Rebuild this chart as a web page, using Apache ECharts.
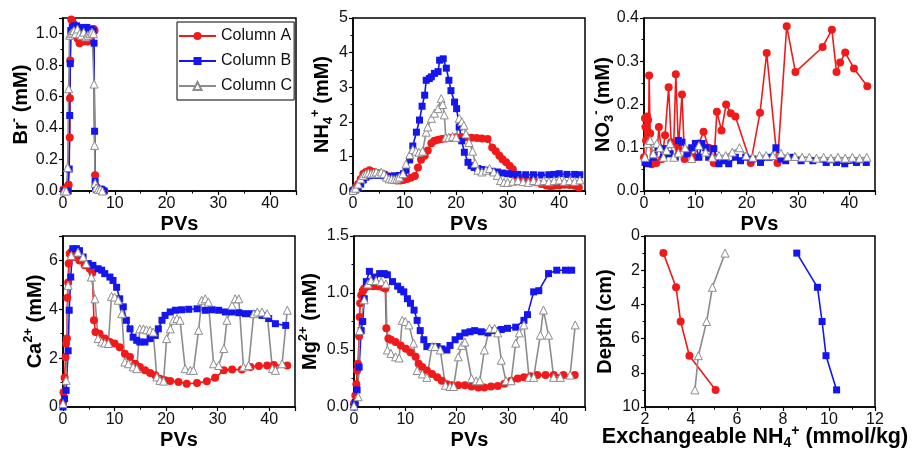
<!DOCTYPE html>
<html><head><meta charset="utf-8">
<script src="https://cdn.jsdelivr.net/npm/echarts@6/dist/echarts.min.js"></script>
<style>html,body{margin:0;padding:0;background:#fff}#c{width:912px;height:456px}</style>
</head><body><div id="c"></div>
<script>
// ---------- Panel 1: Br- (mM) vs PVs ----------
const brA = [[0.1,0.01],[0.5,0.01],[0.9,0.03],[1.1,0.04],[1.3,0.34],[1.35,0.59],[1.4,0.83],[1.6,1.09],[1.8,1.08],[2.1,1.06],[2.4,1.03],[2.8,0.97],[3.2,0.94],[3.6,0.96],[4.0,0.95],[4.4,0.97],[4.8,0.95],[5.2,0.98],[5.6,1.0],[5.9,1.03],[6.1,1.02],[6.2,0.10],[6.3,0.03],[6.6,0.02],[7.0,0.01],[7.6,0.01],[8.0,0.0]];
const brB = [[0.2,0.0],[0.6,0.0],[1.0,0.0],[1.2,0.14],[1.3,0.48],[1.4,0.81],[1.5,1.02],[1.8,1.04],[2.2,1.05],[2.6,1.05],[3.0,1.04],[3.4,1.03],[3.8,1.04],[4.2,1.02],[4.6,1.04],[5.0,1.02],[5.4,1.03],[5.8,1.02],[6.0,0.94],[6.1,0.38],[6.2,0.06],[6.3,0.02],[6.5,0.01],[6.9,0.01],[7.4,0.01],[7.9,0.0]];
const brC = [[0.2,0.0],[0.6,0.0],[0.9,0.15],[1.1,0.65],[1.25,0.99],[1.5,1.0],[1.8,1.01],[2.1,1.02],[2.4,1.0],[2.8,1.03],[3.2,1.0],[3.6,0.99],[4.0,1.01],[4.4,0.98],[4.8,0.99],[5.2,1.0],[5.6,1.01],[5.9,1.0],[6.0,0.68],[6.1,0.29],[6.2,0.05],[6.4,0.02],[6.8,0.01],[7.2,0.01],[7.6,0.0]];
// ---------- Panel 2: NH4+ (mM) vs PVs ----------
const nh4A = [[0,0.02],[0.5,0.1],[1,0.2],[1.5,0.35],[2,0.5],[2.5,0.55],[3.2,0.6],[4,0.55],[4.8,0.52],[5.5,0.5],[6.2,0.48],[7,0.42],[7.7,0.35],[8.5,0.3],[9.2,0.3],[9.8,0.32],[10.5,0.35],[11.2,0.38],[12,0.43],[12.6,0.68],[13.2,0.9],[13.9,1.02],[14.5,1.17],[15.2,1.38],[15.8,1.45],[16.5,1.48],[17.2,1.5],[18,1.52],[19,1.53],[20,1.55],[21,1.56],[22,1.55],[23,1.54],[24,1.53],[25,1.52],[26.1,1.5],[27,1.26],[27.7,1.15],[28.4,1.02],[29,0.92],[29.7,0.83],[30.4,0.72],[31,0.63],[31.6,0.44],[32.5,0.38],[33.5,0.33],[34.5,0.28],[35.5,0.25],[36.5,0.2],[37.5,0.16],[38.3,0.14],[39,0.15],[40,0.16],[41,0.18],[42,0.17],[43,0.15],[43.8,0.1]];
const nh4B = [[0,0],[0.5,0.03],[1,0.08],[1.5,0.2],[2,0.32],[2.5,0.4],[3,0.44],[4,0.45],[5,0.45],[6,0.44],[7,0.42],[8,0.44],[9,0.45],[9.8,0.5],[10.3,0.6],[11,0.9],[11.6,1.3],[12.3,1.7],[12.9,2.05],[13.4,2.45],[13.9,2.77],[14.2,3.2],[14.8,3.25],[15.2,3.3],[15.8,3.4],[16.5,3.45],[16.8,3.78],[17.5,3.82],[18.1,3.55],[18.6,3.2],[19,2.9],[19.7,2.57],[20.1,2.38],[20.6,1.85],[21.1,1.45],[21.6,1.12],[22.3,0.83],[22.9,0.73],[23.5,0.68],[24.2,0.65],[25,0.62],[26,0.6],[27,0.57],[28,0.55],[29,0.52],[30,0.5],[31,0.48],[32,0.48],[33.5,0.47],[35,0.47],[36.5,0.46],[38,0.47],[39,0.48],[40,0.5],[41.5,0.48],[43,0.48],[44,0.47]];
const nh4C = [[0,0.02],[0.5,0.08],[1,0.2],[1.5,0.35],[2,0.45],[2.5,0.5],[3,0.52],[3.5,0.5],[4,0.52],[4.5,0.55],[5,0.5],[5.5,0.55],[6,0.5],[6.5,0.4],[7,0.35],[7.5,0.35],[8,0.33],[8.5,0.35],[9,0.4],[9.7,0.5],[10.3,0.78],[11,1.05],[11.6,1.2],[12.2,1.15],[12.8,1.12],[13.5,1.15],[14.2,1.7],[14.5,1.85],[15.2,2.1],[15.8,2.25],[16.5,2.38],[17.1,2.67],[17.4,2.5],[17.7,2.2],[18,1.55],[18.6,1.55],[19.3,1.58],[20,1.55],[20.6,2.1],[21.1,2.0],[21.5,1.9],[21.9,1.65],[22.5,1.4],[23.2,1.15],[23.7,0.8],[24.2,0.6],[25,0.55],[25.8,0.6],[26.5,0.65],[27.3,0.55],[28,0.45],[28.6,0.3],[29.3,0.25],[30,0.25],[31,0.28],[32,0.3],[33,0.27],[34,0.25],[35,0.3],[36,0.28],[37,0.3],[38,0.27],[39,0.3],[40,0.32],[41,0.28],[42,0.3],[43,0.28],[44,0.32]];
// ---------- Panel 3: NO3- (mM) vs PVs ----------
const no3A = [[0,0.078],[0.2,0.168],[0.3,0.148],[0.4,0.117],[0.6,0.172],[0.8,0.164],[0.9,0.135],[1.0,0.267],[1.2,0.133],[1.5,0.062],[1.8,0.07],[2.4,0.065],[2.9,0.148],[3.5,0.074],[4.1,0.129],[4.8,0.24],[5.3,0.113],[5.8,0.11],[6.2,0.27],[6.7,0.10],[7.4,0.223],[7.9,0.074],[8.7,0.094],[9.7,0.078],[10.7,0.11],[11.6,0.137],[12.6,0.10],[13.6,0.065],[14.2,0.183],[15.1,0.14],[16,0.2],[16.9,0.18],[17.8,0.172],[20.8,0.065],[22.6,0.181],[23.9,0.319],[26,0.065],[27.8,0.381],[29.5,0.275],[34.8,0.333],[36.6,0.373],[37.5,0.275],[38.2,0.297],[39.2,0.32],[40.9,0.283],[43.5,0.242]];
const no3B = [[0.2,0.066],[0.85,0.063],[1.8,0.078],[2.8,0.10],[3.8,0.078],[4.1,0.098],[5.1,0.086],[6.1,0.078],[6.7,0.117],[7.4,0.113],[8.4,0.086],[9.3,0.10],[10,0.11],[10.7,0.078],[11.3,0.11],[12,0.10],[12.6,0.078],[13.6,0.098],[14.6,0.063],[15.6,0.07],[16.5,0.063],[17.8,0.078],[18.8,0.07],[19.8,0.078],[21.1,0.074],[22.7,0.066],[24.4,0.078],[25.7,0.10],[26.7,0.074],[27.6,0.07],[29,0.078],[30.6,0.07],[32.9,0.07],[35.5,0.066],[37.5,0.066],[39.1,0.063],[41.4,0.066],[43.3,0.066]];
const no3C = [[0.2,0.078],[0.7,0.11],[1.2,0.117],[1.8,0.086],[2.5,0.11],[3.1,0.1],[3.8,0.078],[4.4,0.094],[5.1,0.11],[5.8,0.078],[6.7,0.088],[8,0.10],[9.3,0.075],[10.7,0.105],[12,0.09],[13.3,0.078],[14.6,0.082],[15.9,0.082],[17.2,0.09],[18.6,0.10],[19.9,0.082],[21.2,0.078],[22.5,0.082],[23.8,0.082],[25.1,0.082],[26.7,0.087],[28,0.08],[29.4,0.08],[30.8,0.078],[32.2,0.078],[33.6,0.076],[35,0.078],[36.4,0.076],[37.8,0.078],[39.2,0.076],[40.6,0.078],[42,0.076],[43.4,0.078]];
// ---------- Panel 4: Ca2+ (mM) vs PVs ----------
const caA = [[0,0.2],[0.1,0.6],[0.3,1.2],[0.5,2.05],[0.6,2.6],[0.75,2.8],[0.85,4.47],[1.0,5.1],[1.1,5.87],[1.3,6.27],[1.6,6.35],[2.3,6.14],[3.2,6.0],[4.2,5.8],[5.2,5.66],[5.7,5.5],[6.0,3.55],[6.3,3.07],[7.1,3.0],[8.1,2.8],[9.1,2.66],[10,2.6],[11,2.45],[12,2.18],[13,2.05],[14,1.77],[14.9,1.64],[15.9,1.5],[16.9,1.39],[17.9,1.3],[18.8,1.16],[19.8,1.09],[20.8,1.06],[22.4,1.02],[24,0.95],[26,0.98],[27.9,1.05],[29.5,1.2],[31.2,1.5],[32.8,1.54],[34.7,1.53],[36.4,1.64],[38,1.68],[39.6,1.7],[40.9,1.72],[43.5,1.7]];
const caB = [[0,0],[0.3,0.34],[0.6,0.68],[1.0,2.3],[1.2,3.96],[1.5,5.32],[1.9,6.48],[2.6,6.48],[3.2,6.4],[3.9,6.14],[4.9,5.87],[5.8,5.8],[6.8,5.66],[7.5,5.6],[8.1,5.46],[9.1,5.32],[9.7,5.18],[10.4,4.9],[11,4.43],[11.7,4.1],[12.3,3.55],[13,3.2],[13.6,2.86],[14.3,2.73],[14.9,2.66],[15.9,2.66],[16.9,2.8],[17.9,2.93],[18.5,3.2],[19.2,3.55],[19.8,3.75],[20.8,3.89],[21.8,3.96],[23,3.98],[24.4,4.0],[26,4.02],[27.6,3.96],[28.9,3.98],[30.2,3.96],[31.5,3.89],[32.8,3.89],[34.1,3.86],[35.4,3.82],[36.7,3.82],[38.6,3.75],[39.9,3.62],[41.2,3.41],[43.2,3.34]];
const caC = [[0,0.14],[0.6,1.09],[1.0,4.98],[1.6,6.2],[2.9,6.34],[3.9,6.14],[4.5,5.87],[5.5,5.32],[6.2,4.43],[6.8,2.8],[7.5,2.66],[8.1,2.62],[8.8,2.6],[9.4,4.53],[10,4.5],[10.7,4.37],[11.4,3.82],[12,1.84],[12.7,1.77],[13.6,1.64],[14.3,1.57],[14.9,3.2],[15.6,3.2],[16.2,3.16],[16.9,3.14],[17.5,3.07],[18.2,1.23],[18.8,1.09],[19.5,1.06],[20.1,2.8],[20.8,3.2],[21.4,3.55],[22.1,3.62],[22.7,3.55],[23.7,1.57],[24.7,1.5],[25.3,1.5],[26.3,3.14],[26.9,4.37],[27.6,4.43],[28.2,4.3],[29.2,1.77],[30.2,1.7],[31.2,2.39],[31.8,3.55],[32.8,4.16],[33.4,4.43],[34.1,4.43],[35,1.64],[36,1.7],[37,3.82],[37.7,3.89],[38.6,3.89],[39.6,3.82],[40.6,1.57],[41.2,1.5],[42.5,1.77],[43.5,3.96]];
// ---------- Panel 5: Mg2+ (mM) vs PVs ----------
const mgA = [[0,0.03],[0.25,0.1],[0.45,0.2],[0.6,0.32],[0.77,0.38],[1.0,0.62],[1.1,0.79],[1.2,0.91],[1.4,0.98],[1.7,1.02],[2.0,1.04],[2.7,1.06],[3.7,1.06],[4.6,1.06],[5.6,1.05],[6.1,1.04],[6.3,0.69],[6.7,0.6],[7.2,0.59],[8.1,0.57],[9.1,0.54],[10.1,0.51],[11,0.48],[12,0.44],[12.6,0.38],[13.3,0.35],[14.2,0.32],[15.2,0.29],[16.2,0.26],[17.1,0.23],[18.1,0.2],[19,0.19],[20.3,0.19],[21.6,0.19],[22.9,0.18],[24.2,0.17],[25.4,0.17],[26.7,0.18],[28,0.185],[29.3,0.205],[30.6,0.23],[31.9,0.25],[33.1,0.26],[34.4,0.27],[35.7,0.28],[37.3,0.28],[38.9,0.28],[40.8,0.28],[43,0.28]];
const mgB = [[0,0],[0.25,0.04],[0.6,0.15],[1.0,0.35],[1.4,0.67],[1.7,0.75],[2.0,0.95],[2.4,1.1],[3.0,1.19],[4.0,1.14],[5.0,1.17],[5.9,1.17],[6.5,1.16],[7.5,1.1],[8.5,1.06],[9.1,1.03],[9.7,1.01],[10.4,0.95],[11,0.91],[11.7,0.85],[12.3,0.76],[12.9,0.67],[13.6,0.59],[14.2,0.53],[15.2,0.53],[16.2,0.53],[17.1,0.51],[18.1,0.5],[18.7,0.54],[19.7,0.59],[20.6,0.62],[21.6,0.65],[22.6,0.66],[23.5,0.67],[24.8,0.66],[26.1,0.65],[27.4,0.67],[28.7,0.68],[29.9,0.69],[31.5,0.7],[33.1,0.76],[33.8,0.81],[35,1.01],[36,1.02],[37.9,1.17],[39.5,1.2],[41.2,1.2],[42.4,1.2]];
const mgC = [[0,0.01],[0.8,0.09],[1.1,0.67],[2.0,0.94],[2.7,1.08],[3.3,1.11],[4.3,1.11],[5.3,1.1],[6.2,1.08],[6.5,0.5],[7.2,0.47],[8.1,0.44],[8.8,0.43],[9.4,0.76],[10,0.75],[10.7,0.72],[11.6,0.56],[12.3,0.32],[13.3,0.29],[14.2,0.26],[15.2,0.53],[15.8,0.53],[16.8,0.5],[17.8,0.19],[18.7,0.18],[19.4,0.18],[20.3,0.44],[21,0.54],[21.6,0.57],[22.9,0.25],[23.8,0.23],[24.5,0.23],[25.4,0.5],[26.4,0.69],[27.4,0.69],[28,0.65],[28.7,0.41],[29.6,0.23],[30.6,0.23],[31.5,0.56],[32.2,0.65],[33.1,0.72],[34.1,0.26],[35,0.26],[36.3,0.63],[36.9,0.85],[37.9,0.63],[38.9,0.26],[40.2,0.26],[42.1,0.28],[43.1,0.72]];
// ---------- Panel 6: Depth (cm) vs exchangeable NH4+ (mmol/kg) ----------
const depthA = [[2.8,1],[3.35,3],[3.55,5],[3.93,7],[5.07,9]];
const depthB = [[8.6,1],[9.5,3],[9.7,5],[9.87,7],[10.33,9]];
const depthC = [[5.48,1],[4.93,3],[4.68,5],[4.32,7],[4.17,9]];
// ---------- tick settings ----------
const pvTicks = {min: 0, max: 45, interval: 10};
const yTicks = [
  {min: 0, max: 1.1, interval: 0.2, dec: 1, showMax: false},
  {min: 0, max: 5, interval: 1, dec: 0, showMax: true},
  {min: 0, max: 0.4, interval: 0.1, dec: 1, showMax: true},
  {min: 0, max: 7, interval: 2, dec: 0, showMax: false},
  {min: 0, max: 1.5, interval: 0.5, dec: 1, showMax: true},
  {min: 0, max: 10, interval: 2, dec: 0, showMax: true}
];
const depthXTicks = {min: 2, max: 12, interval: 2};

const FONT = '"Liberation Sans", Arial, Helvetica, sans-serif';
const RED = '#f01a1a', BLUE = '#1515ee', GRAY = '#8c8c8c';

const grids = [
  {left: 63, top: 18, width: 233, height: 173},
  {left: 353, top: 18, width: 232, height: 173},
  {left: 644, top: 18, width: 231, height: 173},
  {left: 63, top: 236, width: 232, height: 171},
  {left: 354, top: 236, width: 231, height: 171},
  {left: 645, top: 236, width: 230, height: 171}
].map(g => Object.assign({show: true, borderColor: '#000', borderWidth: 1.5, backgroundColor: 'transparent', containLabel: false, outerBoundsMode: 'none'}, g));

function makeRich(sz) {
  return {
    sup: {fontSize: sz, fontWeight: 'bold', lineHeight: sz, verticalAlign: 'top', fontFamily: FONT, color: '#000'},
    sub: {fontSize: sz, fontWeight: 'bold', lineHeight: sz, verticalAlign: 'bottom', fontFamily: FONT, color: '#000'}
  };
}
function nameStyle(fs, sz, pad) {
  const s = {fontSize: fs, fontWeight: 'bold', color: '#000', fontFamily: FONT, lineHeight: 26, rich: makeRich(sz)};
  if (pad) s.padding = pad;
  return s;
}

function common() {
  return {
    axisLine: {show: true, onZero: false, lineStyle: {color: '#000', width: 1.5}},
    axisTick: {show: true, inside: false, length: 4, lineStyle: {color: '#000', width: 1.2}},
    minorTick: {show: true, splitNumber: 2, length: 2.5, lineStyle: {color: '#000', width: 1}},
    splitLine: {show: false},
    nameMoveOverlap: false
  };
}
function fmt(dec) { return v => Number(v).toFixed(dec); }

const xNames = ['PVs','PVs','PVs','PVs','PVs','Exchangeable NH{sub|4}{sup|+} (mmol/kg)'];
const yNames = ['Br{sup|-} (mM)','NH{sub|4}{sup|+} (mM)','NO{sub|3}{sup|-} (mM)','Ca{sup|2+} (mM)','Mg{sup|2+} (mM)','Depth (cm)'];
const yGaps = [29, 18, 28, 15, 31, 27];

const xAxis = [], yAxis = [];
for (let i = 0; i < 6; i++) {
  const xt = i < 5 ? pvTicks : depthXTicks;
  xAxis.push(Object.assign(common(), {
    type: 'value', gridIndex: i, min: xt.min, max: xt.max, interval: xt.interval,
    name: xNames[i], nameLocation: 'middle', nameGap: i < 5 ? 20 : 17,
    nameTextStyle: i < 5 ? nameStyle(20, 13) : nameStyle(21.5, 14, [0, 10, 0, 0]),
    axisLabel: {color: '#111', fontSize: 16, fontFamily: FONT, margin: 5, showMaxLabel: i === 5, formatter: fmt(0)}
  }));
  const yt = yTicks[i];
  yAxis.push(Object.assign(common(), {
    type: 'value', gridIndex: i, min: yt.min, max: yt.max, interval: yt.interval,
    inverse: i === 5,
    name: yNames[i], nameLocation: 'middle', nameGap: yGaps[i],
    nameTextStyle: nameStyle(20, 13),
    axisLabel: {color: '#111', fontSize: 16, fontFamily: FONT, margin: 5, showMaxLabel: yt.showMax, showMinLabel: true, formatter: fmt(yt.dec)}
  }));
}

function ser(kind, data, gi) {
  const base = {type: 'line', xAxisIndex: gi, yAxisIndex: gi, data: data, animation: false, z: 2};
  if (kind === 'A') return Object.assign(base, {name: 'Column A', symbol: 'circle', symbolSize: 8,
    itemStyle: {color: RED}, lineStyle: {color: RED, width: 1.6}});
  if (kind === 'B') return Object.assign(base, {name: 'Column B', symbol: 'rect', symbolSize: 7,
    itemStyle: {color: BLUE}, lineStyle: {color: BLUE, width: 1.6}});
  return Object.assign(base, {name: 'Column C', symbol: 'triangle', symbolSize: 8,
    itemStyle: {color: '#fff', borderColor: GRAY, borderWidth: 1}, lineStyle: {color: GRAY, width: 1.6}});
}

const panels = [[brA, brB, brC], [nh4A, nh4B, nh4C], [no3A, no3B, no3C], [caA, caB, caC], [mgA, mgB, mgC], [depthA, depthB, depthC]];
const series = [];
panels.forEach((p, gi) => { series.push(ser('A', p[0], gi)); series.push(ser('B', p[1], gi)); series.push(ser('C', p[2], gi)); });

const chart = echarts.init(document.getElementById('c'), null, {renderer: 'canvas'});
chart.setOption({
  animation: false,
  backgroundColor: '#fff',
  grid: grids,
  xAxis: xAxis,
  yAxis: yAxis,
  legend: {
    data: ['Column A', 'Column B', 'Column C'], orient: 'vertical', left: 177, top: 22,
    padding: [6, 2, 6, 1], itemGap: 9, itemWidth: 37, itemHeight: 10,
    borderColor: '#000', borderWidth: 1, backgroundColor: '#fff', selectedMode: false,
    textStyle: {fontSize: 16, color: '#111', fontFamily: FONT}
  },
  series: series
});
</script></body></html>
